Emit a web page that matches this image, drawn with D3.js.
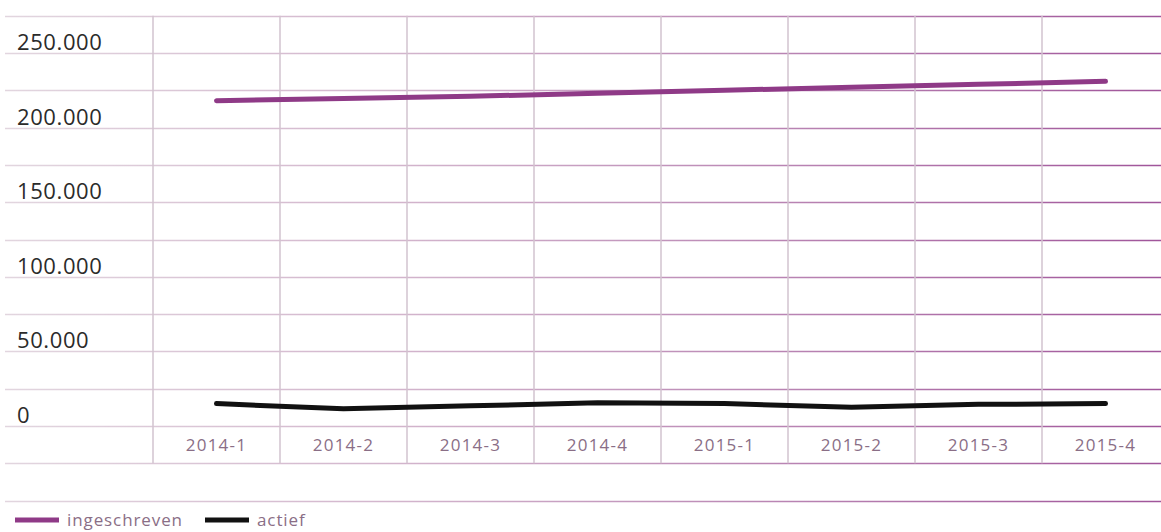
<!DOCTYPE html>
<html>
<head>
<meta charset="utf-8">
<style>
  body { margin: 0; background: #fff; }
  svg { display: block; }
</style>
</head>
<body>
<div id="chart"></div>
<script src="https://d3js.org/d3.v7.min.js"></script>
<script>
    const width = 1161;
    const height = 532;

    // data
    const categories = ["2014-1", "2014-2", "2014-3", "2014-4", "2015-1", "2015-2", "2015-3", "2015-4"];
    const ingeschreven = [218000, 219500, 221000, 223000, 225000, 227000, 229000, 231000];
    const actief = [15000, 11500, 13500, 15500, 15000, 12500, 14500, 15000];
    const yTicks = [0, 50000, 100000, 150000, 200000, 250000];
    const gridValues = [-50000, -25000, 0, 25000, 50000, 75000, 100000, 125000, 150000, 175000, 200000, 225000, 250000, 275000];
    const legendItems = ["ingeschreven", "actief"];

    const svg = d3.select("#chart")
        .append("svg")
        .attr("width", width)
        .attr("height", height);

    // horizontal grid lines fade from grey-pink into purple
    const grad = svg.append("defs").append("linearGradient")
        .attr("id", "gridGrad")
        .attr("gradientUnits", "userSpaceOnUse")
        .attr("x1", 0).attr("x2", width).attr("y1", 0).attr("y2", 0);
    grad.append("stop").attr("offset", "0%").attr("stop-color", "#e2d6df");
    grad.append("stop").attr("offset", "35%").attr("stop-color", "#d2b4cc");
    grad.append("stop").attr("offset", "100%").attr("stop-color", "#a0559a");

    const x = d3.scaleBand()
        .domain(categories)
        .range([153, 1169])
        .padding(0);

    const y = d3.scaleLinear()
        .domain([0, 250000])
        .range([426, 53]);

    // horizontal grid
    svg.append("g")
        .selectAll("line")
        .data(gridValues)
        .join("line")
        .attr("x1", 5)
        .attr("x2", width)
        .attr("y1", d => Math.round(y(d)) + 0.5)
        .attr("y2", d => Math.round(y(d)) + 0.5)
        .attr("stroke", "url(#gridGrad)")
        .attr("stroke-width", 1.6);

    // vertical grid
    svg.append("g")
        .selectAll("line")
        .data(categories)
        .join("line")
        .attr("x1", d => x(d))
        .attr("x2", d => x(d))
        .attr("y1", y(275000))
        .attr("y2", y(-25000))
        .attr("stroke", "#d2c3cf")
        .attr("stroke-width", 1.5);

    // y labels
    const fmt = d => d === 0 ? "0" : d3.format(",")(d).replace(/,/g, ".");
    svg.append("g")
        .selectAll("text")
        .data(yTicks)
        .join("text")
        .attr("x", 17)
        .attr("y", d => y(d) - 3)
        .attr("font-family", "Open Sans, sans-serif")
        .attr("font-size", "22px")
        .attr("letter-spacing", "0.6px")
        .attr("fill", "#2b2b2b")
        .text(fmt);

    // x labels
    svg.append("g")
        .selectAll("text")
        .data(categories)
        .join("text")
        .attr("x", d => x(d) + x.bandwidth() / 2)
        .attr("y", y(-12500) + 6)
        .attr("text-anchor", "middle")
        .attr("font-family", "Open Sans, sans-serif")
        .attr("font-size", "17px")
        .attr("letter-spacing", "1.2px")
        .attr("fill", "#8a6e86")
        .text(d => d);

    const line = d3.line()
        .x((d, i) => x(categories[i]) + x.bandwidth() / 2)
        .y(d => y(d));

    svg.append("path")
        .datum(ingeschreven)
        .attr("d", line)
        .attr("fill", "none")
        .attr("stroke", "#8f3a87")
        .attr("stroke-width", 5)
        .attr("stroke-linecap", "round")
        .attr("stroke-linejoin", "round");

    svg.append("path")
        .datum(actief)
        .attr("d", line)
        .attr("fill", "none")
        .attr("stroke", "#111")
        .attr("stroke-width", 5)
        .attr("stroke-linecap", "round")
        .attr("stroke-linejoin", "round");

    // legend
    const legendColors = ["#8f3a87", "#111"];
    const legendX = [15, 205];
    const lg = svg.append("g");
    legendItems.forEach((name, i) => {
        lg.append("line")
            .attr("x1", legendX[i])
            .attr("x2", legendX[i] + 44)
            .attr("y1", 520)
            .attr("y2", 520)
            .attr("stroke", legendColors[i])
            .attr("stroke-width", 5);
        lg.append("text")
            .attr("x", legendX[i] + 52)
            .attr("y", 526)
            .attr("font-family", "Open Sans, sans-serif")
            .attr("font-size", "17px")
            .attr("letter-spacing", "0.9px")
            .attr("fill", "#8a6e86")
            .text(name);
    });
</script>
</body>
</html>
